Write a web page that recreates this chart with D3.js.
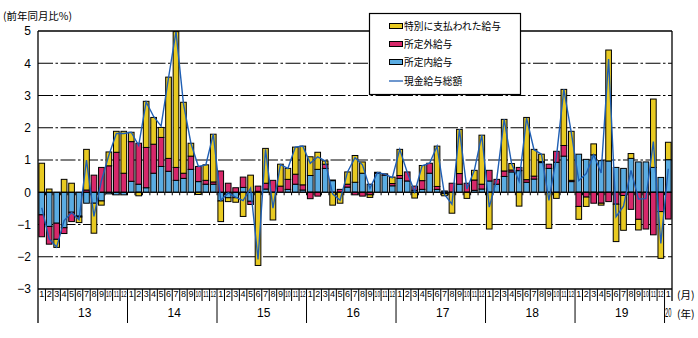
<!DOCTYPE html>
<html><head><meta charset="utf-8">
<script src="https://cdn.jsdelivr.net/npm/d3@7"></script>
<style>
body{margin:0;background:#fff;}
svg{display:block;}
text{font-family:"Noto Sans CJK JP","Noto Sans",sans-serif;fill:#000;}
</style>
</head><body>
<svg id="c" width="698" height="338"></svg>
<script>
// ---- data ----
const monthNames = ["1","2","3","4","5","6","7","8","9","10","11","12"];
const yearLabels = ["13","14","15","16","17","18","19","20"];
const yTickValues = [5,4,3,2,1,0,-1,-2,-3];
// 所定内給与
const shoteinai = [-0.70,-1.06,-0.96,-1.10,-0.62,-0.74,-0.34,-0.34,-0.27,-0.05,-0.08,-0.08,
  0.34,0.25,0.14,0.59,0.80,0.65,0.37,0.43,0.71,0.33,0.25,0.25,
  -0.27,-0.17,-0.17,0.15,-0.28,0.03,0.10,0.00,0.00,0.09,0.25,0.07,
  0.52,0.71,0.74,0.36,0.00,0.16,0.31,0.59,0.25,0.59,0.53,0.20,
  0.43,0.35,0.06,0.09,0.59,0.09,0.04,0.00,0.25,0.00,0.06,0.10,
  0.35,0.25,0.49,0.63,0.67,0.31,0.41,0.92,0.74,0.93,1.12,0.33,
  1.18,1.02,1.16,0.98,0.97,0.77,0.74,1.05,0.94,0.94,0.77,0.46,
  1.01];
// 所定外給与
const shoteigai = [-0.68,-0.55,-0.50,-0.18,-0.29,-0.03,0.07,0.53,0.77,0.82,1.24,0.59,
  1.23,1.27,1.25,0.90,0.90,0.40,0.40,0.16,0.41,0.47,0.12,0.07,
  0.66,0.28,0.14,0.32,-0.10,0.16,0.18,0.37,0.19,0.31,0.31,0.16,
  -0.20,-0.12,0.13,0.02,0.09,0.09,-0.08,-0.12,-0.08,0.03,0.04,0.07,
  0.09,0.28,0.13,0.27,0.31,0.09,-0.04,0.28,0.33,0.28,0.32,0.15,
  0.33,0.15,0.17,0.06,0.10,0.08,0.09,0.03,0.13,0.34,0.33,0.04,
  -0.44,-0.15,-0.34,-0.34,-0.29,-0.37,-0.10,-0.53,-0.84,-1.14,-1.32,-0.60,
  -0.83];
// 特別に支払われた給与
const tokubetsu = [0.90,0.10,-0.25,0.40,0.28,-0.17,1.26,-0.93,-0.13,0.43,0.65,1.30,
  0.29,-0.11,1.43,0.83,0.31,2.52,4.21,2.20,0.40,-0.07,0.48,1.48,
  -0.64,-0.12,-0.14,-0.75,0.53,-2.27,1.08,-0.86,0.68,0.34,0.84,1.20,
  0.58,0.53,0.10,-0.40,-0.34,0.38,0.83,0.35,-0.08,0.00,0.00,0.20,
  0.81,0.00,-0.18,0.47,0.00,1.25,-0.07,-0.65,1.37,-0.19,0.30,1.52,
  -1.14,0.00,1.60,0.20,-0.43,1.93,0.83,0.23,-1.12,-0.19,1.74,1.52,
  -0.40,-0.29,0.34,-0.06,3.44,-1.16,-1.08,0.15,-0.33,0.00,2.12,-1.45,
  0.54];
// 現金給与総額
const genkin = [-0.48,-1.45,-1.70,-0.88,-0.63,-0.85,1.00,-0.75,0.35,1.15,1.82,1.82,
  1.86,1.45,2.80,2.35,2.05,3.55,4.98,2.75,1.52,0.80,0.85,1.80,
  -0.25,-0.02,-0.15,-0.26,0.13,-2.08,1.33,-0.49,0.86,0.74,1.40,1.43,
  0.90,1.10,0.97,-0.05,-0.25,0.63,1.07,0.85,0.12,0.61,0.56,0.45,
  1.33,0.62,0.01,0.82,0.90,1.43,-0.07,-0.37,1.95,0.10,0.68,1.77,
  -0.46,0.40,2.26,0.88,0.34,2.30,1.32,1.18,-0.25,1.08,3.19,1.85,
  0.36,0.58,1.16,0.60,4.13,-0.76,-0.43,0.68,-0.21,-0.20,1.57,-1.59,
  0.73];

const seriesKeys = ["shoteinai","shoteigai","tokubetsu"];
const seriesNames = {tokubetsu:"特別に支払われた給与", shoteigai:"所定外給与", shoteinai:"所定内給与"};
const colors = {shoteinai:"#5aace2", shoteigai:"#d7286a", tokubetsu:"#e8ca22"};
const lineColor = "#1f5fb4";

// categories
const categories = [];
yearLabels.forEach((yl, yi) => monthNames.forEach((m, mi) => {
  if (yi < 7 || mi === 0) categories.push({year: yl, month: m});
}));
const rows = categories.map((c, i) => ({i, month: c.month, year: c.year,
  shoteinai: shoteinai[i], shoteigai: shoteigai[i], tokubetsu: tokubetsu[i], total: genkin[i]}));

// ---- layout ----
const L = 38, R = 672, T = 31, B = 289;
const svg = d3.select("#c");
const x = d3.scaleBand().domain(d3.range(rows.length)).range([L, R]).paddingInner(0.24).paddingOuter(0.12);
const y = d3.scaleLinear().domain([-3, 5]).range([B, T]);
const step = x.step();
const boundary = i => L + i * step;

// gridlines
svg.append("g").selectAll("line").data([4,3,2,1,-1,-2]).join("line")
  .attr("x1", L).attr("x2", R).attr("y1", d => y(d)).attr("y2", d => y(d))
  .attr("stroke", "#000").attr("stroke-width", 1.1)
  .attr("stroke-dasharray", "15,2.5,2.5,2.5");

// bars
const stack = d3.stack().keys(seriesKeys).offset(d3.stackOffsetDiverging)(rows);
svg.append("g").selectAll("g").data(stack).join("g")
  .attr("fill", d => colors[d.key])
  .selectAll("rect").data(d => d).join("rect")
  .attr("x", (d, i) => x(i))
  .attr("width", x.bandwidth())
  .attr("y", d => y(Math.max(d[0], d[1])))
  .attr("height", d => Math.abs(y(d[0]) - y(d[1])))
  .attr("stroke", "#000").attr("stroke-width", 1);

// zero line with small ticks
svg.append("line").attr("x1", L).attr("x2", R).attr("y1", y(0)).attr("y2", y(0))
  .attr("stroke", "#000").attr("stroke-width", 1.2);
svg.append("g").selectAll("line").data(d3.range(1, rows.length)).join("line")
  .attr("x1", d => boundary(d)).attr("x2", d => boundary(d))
  .attr("y1", y(0)).attr("y2", y(0) + 3)
  .attr("stroke", "#000").attr("stroke-width", 1);

// total line
svg.append("path").datum(rows)
  .attr("fill", "none").attr("stroke", lineColor).attr("stroke-width", 1.4)
  .attr("d", d3.line().x(d => x(d.i) + x.bandwidth() / 2).y(d => y(d.total)));

// frame
svg.append("line").attr("x1", L).attr("x2", R).attr("y1", T).attr("y2", T).attr("stroke", "#000").attr("stroke-width", 1.3);
svg.append("line").attr("x1", L).attr("x2", R).attr("y1", B).attr("y2", B).attr("stroke", "#000").attr("stroke-width", 1.3);
svg.append("line").attr("x1", R).attr("x2", R).attr("y1", T).attr("y2", 301).attr("stroke", "#000").attr("stroke-width", 1.3);
svg.append("line").attr("x1", L).attr("x2", L).attr("y1", T).attr("y2", 323).attr("stroke", "#000").attr("stroke-width", 1.3);

// y axis labels
const yAxis = svg.append("g").attr("transform", `translate(${L},0)`)
  .call(d3.axisLeft(y).tickValues(yTickValues).tickSize(0).tickPadding(7).tickFormat(d3.format("d")));
yAxis.select(".domain").remove();
yAxis.selectAll("text").attr("font-size", 12).style("font-family", "'Liberation Sans',Arial,sans-serif");

// x axis: month labels
const xAxis = svg.append("g").attr("transform", `translate(0,${B})`)
  .call(d3.axisBottom(x).tickSize(0).tickPadding(2).tickFormat(i => rows[i].month));
xAxis.select(".domain").remove();
xAxis.selectAll("text").attr("font-size", 9)
  .style("font-family", "'Liberation Sans',Arial,sans-serif")
  .each(function(i) {
    if (rows[i].month.length > 1) d3.select(this).attr("transform", "scale(0.56,1)");
  });

// month separators & year separators
svg.append("g").selectAll("line").data(d3.range(1, rows.length)).join("line")
  .attr("x1", d => boundary(d)).attr("x2", d => boundary(d))
  .attr("y1", B).attr("y2", d => d % 12 === 0 ? 323 : 301)
  .attr("stroke", "#000").attr("stroke-width", 1);

// year labels
const yearG = svg.append("g").selectAll("g").data(yearLabels).join("g")
  .attr("transform", (d, k) => `translate(${k < 7 ? boundary(k * 12 + 6) + 2 : x(84) + x.bandwidth() / 2},317)`);
yearG.append("text")
  .attr("text-anchor", "middle").attr("font-size", 12)
  .style("font-family", "'Liberation Sans',Arial,sans-serif")
  .attr("transform", (d, k) => k < 7 ? null : "scale(0.48,1)")
  .text(d => d);

svg.append("text").attr("x", 677).attr("y", 299).attr("font-size", 10.5).text("(月)");
svg.append("text").attr("x", 677).attr("y", 318).attr("font-size", 10.5).text("(年)");
svg.append("text").attr("x", 3).attr("y", 20).attr("font-size", 10.5).attr("textLength", 69).attr("lengthAdjust", "spacingAndGlyphs").text("(前年同月比%)");

// legend
const lg = svg.append("g");
lg.append("rect").attr("x", 369.5).attr("y", 13.5).attr("width", 151).attr("height", 81)
  .attr("fill", "#fff").attr("stroke", "#000").attr("stroke-width", 1.2);
const legendItems = ["tokubetsu","shoteigai","shoteinai","total"];
const legendY = [26, 44, 62, 81];
legendItems.forEach((k, j) => {
  const cy = legendY[j];
  if (k === "total") {
    lg.append("line").attr("x1", 389).attr("x2", 403).attr("y1", cy).attr("y2", cy)
      .attr("stroke", lineColor).attr("stroke-width", 1.3);
  } else {
    lg.append("rect").attr("x", 389.5).attr("y", cy - 2.5).attr("width", 13).attr("height", 5)
      .attr("fill", colors[k]).attr("stroke", "#000").attr("stroke-width", 1);
  }
  const label = k === "total" ? "現金給与総額" : seriesNames[k];
  lg.append("text").attr("x", 404).attr("y", cy + 4).attr("font-size", 10.5)
    .attr("textLength", label.length * 9.7).attr("lengthAdjust", "spacingAndGlyphs")
    .text(label);
});
</script>
</body></html>
